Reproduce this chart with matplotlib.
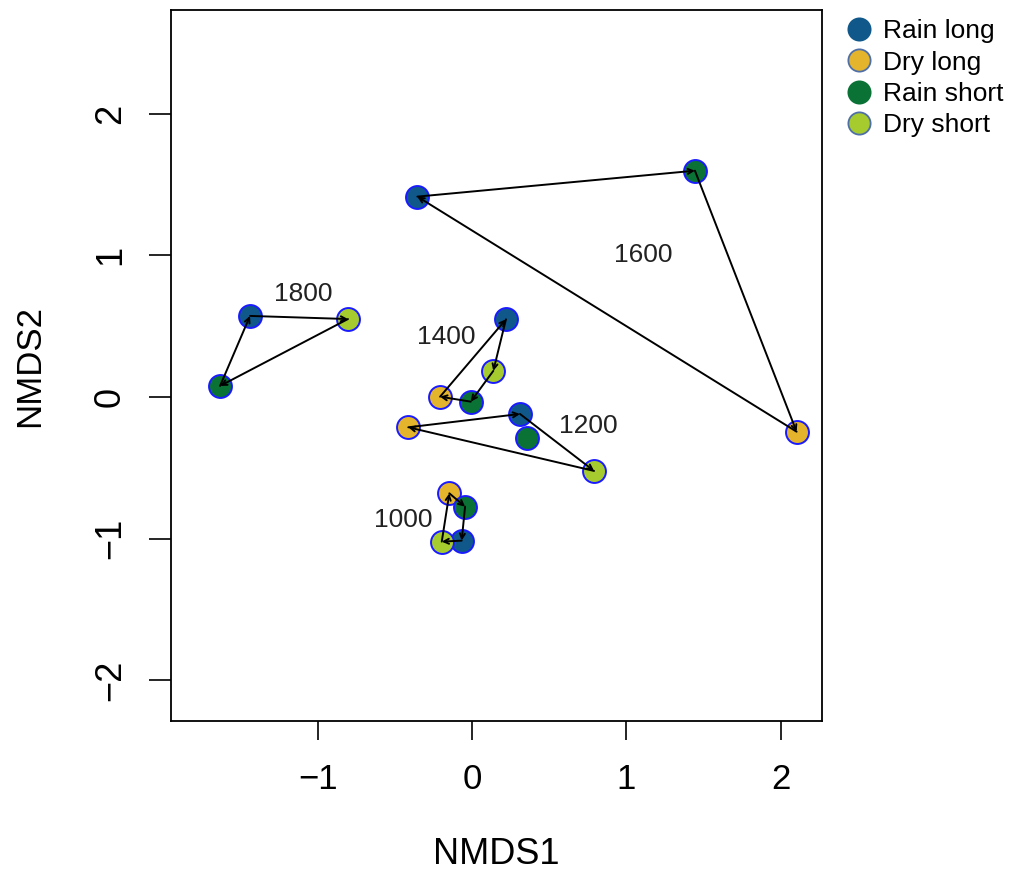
import matplotlib
matplotlib.use("Agg")
import matplotlib.pyplot as plt
import numpy as np
from matplotlib.patches import FancyArrowPatch
from matplotlib.lines import Line2D

plt.rcParams["font.family"] = ["Liberation Sans", "DejaVu Sans"]

# NMDS scores per sampling depth, one array per treatment
years = [1000, 1200, 1400, 1600, 1800]
rain_long_x = [-0.067, 0.311, 0.220, -0.354, -1.439]
rain_long_y = [-1.014, -0.120, 0.548, 1.414, 0.572]
dry_long_x = [-0.147, -0.413, -0.207, 2.104, np.nan]
dry_long_y = [-0.680, -0.214, 0.002, -0.245, np.nan]
rain_short_x = [-0.045, 0.358, -0.008, 1.445, -1.633]
rain_short_y = [-0.774, -0.287, -0.033, 1.597, 0.078]
dry_short_x = [-0.196, 0.791, 0.138, np.nan, -0.804]
dry_short_y = [-1.021, -0.522, 0.184, np.nan, 0.550]

treatments = ["Rain long", "Dry long", "Rain short", "Dry short"]
colors = ["#10588a", "#e4b52c", "#0b7235", "#a5cb2f"]
legend_edges = ["#10588a", "#4f6fa8", "#0b7235", "#4f6fa8"]

# order in which the treatments of each year are joined
paths = {
    1000: ["Dry long", "Rain short", "Rain long", "Dry short"],
    1200: ["Dry long", "Rain long", "Dry short"],
    1400: ["Rain long", "Dry short", "Rain short", "Dry long"],
    1600: ["Rain long", "Rain short", "Dry long"],
    1800: ["Rain long", "Dry short", "Rain short"],
}
label_pos = {
    1000: (-0.447, -0.868),
    1200: (0.752, -0.205),
    1400: (-0.168, 0.423),
    1600: (1.108, 1.002),
    1800: (-1.095, 0.727),
}

coords = {
    "Rain long": (rain_long_x, rain_long_y),
    "Dry long": (dry_long_x, dry_long_y),
    "Rain short": (rain_short_x, rain_short_y),
    "Dry short": (dry_short_x, dry_short_y),
}

fig = plt.figure(figsize=(10.21, 8.71), dpi=100)
ax = fig.add_axes([0.1675, 0.1722, 0.6375, 0.8163])

for name, col in zip(treatments, colors):
    xs, ys = coords[name]
    ax.scatter(xs, ys, s=16.5 ** 2, color=col, edgecolors="#1a1aff",
               linewidths=1.4, zorder=2)

for i, yr in enumerate(years):
    seq = paths[yr]
    for a, b in zip(seq, seq[1:] + seq[:1]):
        p0 = (coords[a][0][i], coords[a][1][i])
        p1 = (coords[b][0][i], coords[b][1][i])
        arr = FancyArrowPatch(p0, p1, arrowstyle="->,head_length=0.4,head_width=0.2",
                              shrinkA=0, shrinkB=0, color="black", lw=1.4,
                              mutation_scale=9, zorder=3)
        ax.add_patch(arr)
    lx, ly = label_pos[yr]
    ax.text(lx, ly, str(yr), fontsize=19, color="#222222",
            ha="center", va="center", zorder=4)

ax.set_xlim(-1.951, 2.268)
ax.set_ylim(-2.287, 2.731)
ax.set_xticks([-1, 0, 1, 2])
ax.set_yticks([-2, -1, 0, 1, 2])
ax.set_xticklabels(["\u22121", "0", "1", "2"], fontsize=25)
ax.set_yticklabels(["\u22122", "\u22121", "0", "1", "2"], fontsize=26,
                   rotation=90, va="center")
ax.tick_params(axis="x", length=14, width=1.2, pad=16)
ax.tick_params(axis="y", length=16, width=1.2, pad=15)
for sp in ax.spines.values():
    sp.set_linewidth(1.3)

ax.set_xlabel("NMDS1", fontsize=26, labelpad=30)
ax.set_ylabel("NMDS2", fontsize=25, labelpad=34)

handles = [Line2D([], [], marker="o", linestyle="none", markersize=16,
                  markerfacecolor=c, markeredgecolor=e, markeredgewidth=1.3)
           for c, e in zip(colors, legend_edges)]
fig.legend(handles, treatments, loc="upper left", bbox_to_anchor=(0.812, 0.996),
           frameon=False, fontsize=19, handletextpad=0.35, labelspacing=0.28,
           handlelength=1.1, borderaxespad=0.2)

fig.savefig("out.png", dpi=100)
